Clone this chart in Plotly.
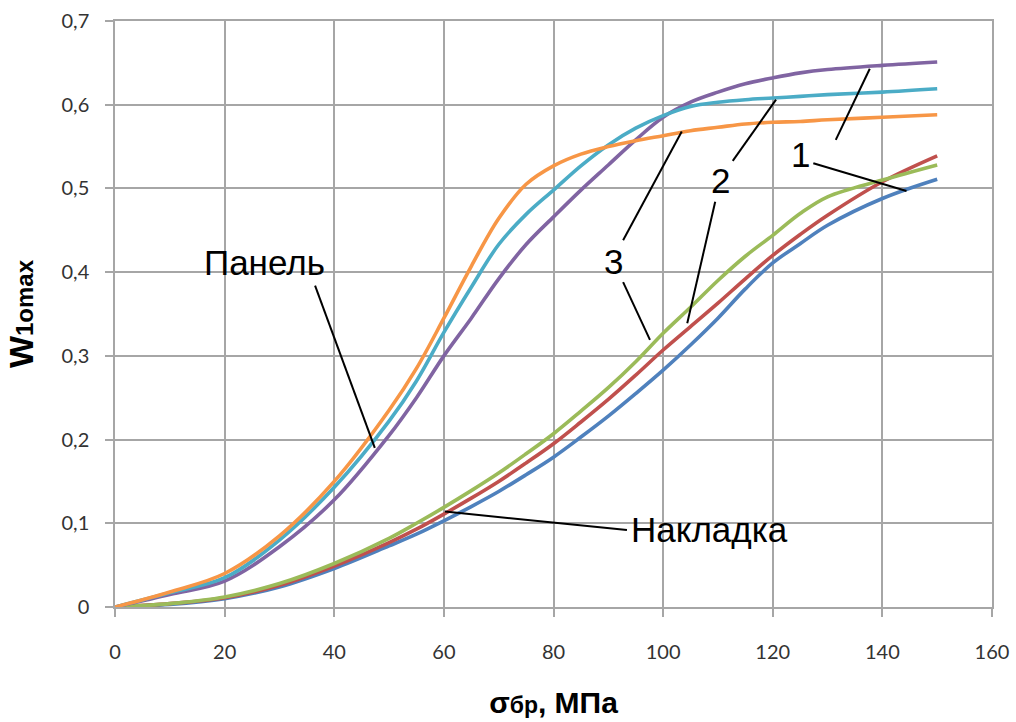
import plotly.graph_objects as go

# Stress values (MPa) at which deflection was computed
sigma = [0, 10, 20, 30, 40, 50, 55, 60, 65, 70, 75, 80, 85, 90, 95, 100, 105, 110, 115, 120, 125, 130, 140, 150]

# Panel ("Панель"), variants 1–3
panel_1 = [0, 0.015, 0.031, 0.072, 0.128, 0.205, 0.250, 0.300, 0.345, 0.392, 0.433, 0.466, 0.498, 0.528, 0.558, 0.585, 0.603, 0.615, 0.625, 0.632, 0.638, 0.642, 0.647, 0.651]
panel_2 = [0, 0.017, 0.035, 0.080, 0.143, 0.222, 0.270, 0.328, 0.382, 0.433, 0.469, 0.498, 0.527, 0.552, 0.572, 0.587, 0.598, 0.603, 0.606, 0.608, 0.610, 0.612, 0.615, 0.619]
panel_3 = [0, 0.018, 0.040, 0.085, 0.150, 0.235, 0.285, 0.345, 0.407, 0.464, 0.505, 0.527, 0.541, 0.550, 0.557, 0.563, 0.569, 0.573, 0.577, 0.579, 0.580, 0.582, 0.585, 0.588]

# Overlay ("Накладка"), variants 1–3
overlay_1 = [0, 0.003, 0.010, 0.024, 0.046, 0.073, 0.087, 0.103, 0.120, 0.138, 0.158, 0.179, 0.203, 0.228, 0.255, 0.283, 0.313, 0.345, 0.380, 0.411, 0.434, 0.456, 0.488, 0.511]
overlay_2 = [0, 0.004, 0.011, 0.026, 0.049, 0.077, 0.093, 0.111, 0.130, 0.150, 0.172, 0.195, 0.221, 0.248, 0.277, 0.307, 0.335, 0.363, 0.392, 0.420, 0.445, 0.468, 0.508, 0.539]
overlay_3 = [0, 0.004, 0.012, 0.028, 0.052, 0.082, 0.100, 0.119, 0.139, 0.160, 0.183, 0.207, 0.234, 0.262, 0.293, 0.327, 0.358, 0.390, 0.419, 0.444, 0.470, 0.490, 0.510, 0.528]

x_ticks = [0, 20, 40, 60, 80, 100, 120, 140, 160]
y_ticks = [0, 0.1, 0.2, 0.3, 0.4, 0.5, 0.6, 0.7]
y_tick_text = ["0", "0,1", "0,2", "0,3", "0,4", "0,5", "0,6", "0,7"]

series = [
    (overlay_1, "#4F81BD"),
    (overlay_2, "#C0504D"),
    (overlay_3, "#9BBB59"),
    (panel_1, "#8064A2"),
    (panel_2, "#4BACC6"),
    (panel_3, "#F79646"),
]

fig = go.Figure()
for values, color in series:
    fig.add_trace(go.Scatter(
        x=sigma, y=values, mode="lines",
        line=dict(color=color, width=3.6, shape="spline", smoothing=1.0),
        showlegend=False, hoverinfo="skip",
    ))

# Callout leader lines (data coordinates)
leaders = [
    (36.5, 0.384, 47.4, 0.190),
    (60.2, 0.114, 93.4, 0.092),
    (92.7, 0.438, 103.4, 0.568),
    (92.7, 0.388, 97.6, 0.319),
    (112.7, 0.533, 120.6, 0.606),
    (109.5, 0.484, 104.4, 0.339),
    (131.5, 0.558, 137.7, 0.643),
    (127.4, 0.530, 144.4, 0.497),
]
for x0, y0, x1, y1 in leaders:
    fig.add_shape(type="line", xref="x", yref="y", x0=x0, y0=y0, x1=x1, y1=y1,
                  line=dict(color="black", width=2))

labels = [
    ("Панель", 27.2, 0.412),
    ("Накладка", 108.5, 0.0927),
    ("3", 90.9, 0.413),
    ("2", 110.4, 0.510),
    ("1", 125.0, 0.541),
]
for text, x, y in labels:
    fig.add_annotation(x=x, y=y, xref="x", yref="y", text=text, showarrow=False,
                       font=dict(family="Liberation Sans, Arial", size=35, color="black"),
                       xanchor="center", yanchor="middle")

grid = "#a6a6a6"
fig.update_xaxes(
    range=[0, 160], tickvals=x_ticks, ticktext=[str(v) for v in x_ticks],
    showgrid=True, gridcolor=grid, gridwidth=1.5,
    showline=True, linecolor=grid, linewidth=1.5, mirror=True,
    ticks="outside", ticklen=8, tickcolor=grid, tickwidth=1.5,
    ticklabelstandoff=18, zeroline=False, automargin=False,
    tickfont=dict(family="Lato, Open Sans", size=20, color="#333333"),
    title=dict(text="σ<span style='font-size:23px'>бр</span>, МПа",
               font=dict(family="Liberation Sans, Arial", size=30, color="black", weight="bold"),
               standoff=30),
)
fig.update_yaxes(
    range=[0, 0.7], tickvals=y_ticks, ticktext=y_tick_text,
    showgrid=True, gridcolor=grid, gridwidth=1.5,
    showline=True, linecolor=grid, linewidth=1.5, mirror=True,
    ticks="outside", ticklen=8, tickcolor=grid, tickwidth=1.5,
    ticklabelstandoff=12, zeroline=False, automargin=False,
    tickfont=dict(family="Lato, Open Sans", size=20, color="#333333"),
    title=dict(text="W<span style='font-size:24px'>1omax</span>",
               font=dict(family="Liberation Sans, Arial", size=34, color="black", weight="bold"),
               standoff=18),
)

fig.update_layout(
    width=1016, height=722,
    margin=dict(l=115, r=24, t=21, b=115),
    paper_bgcolor="white", plot_bgcolor="white",
)

fig.write_html("out.html")
